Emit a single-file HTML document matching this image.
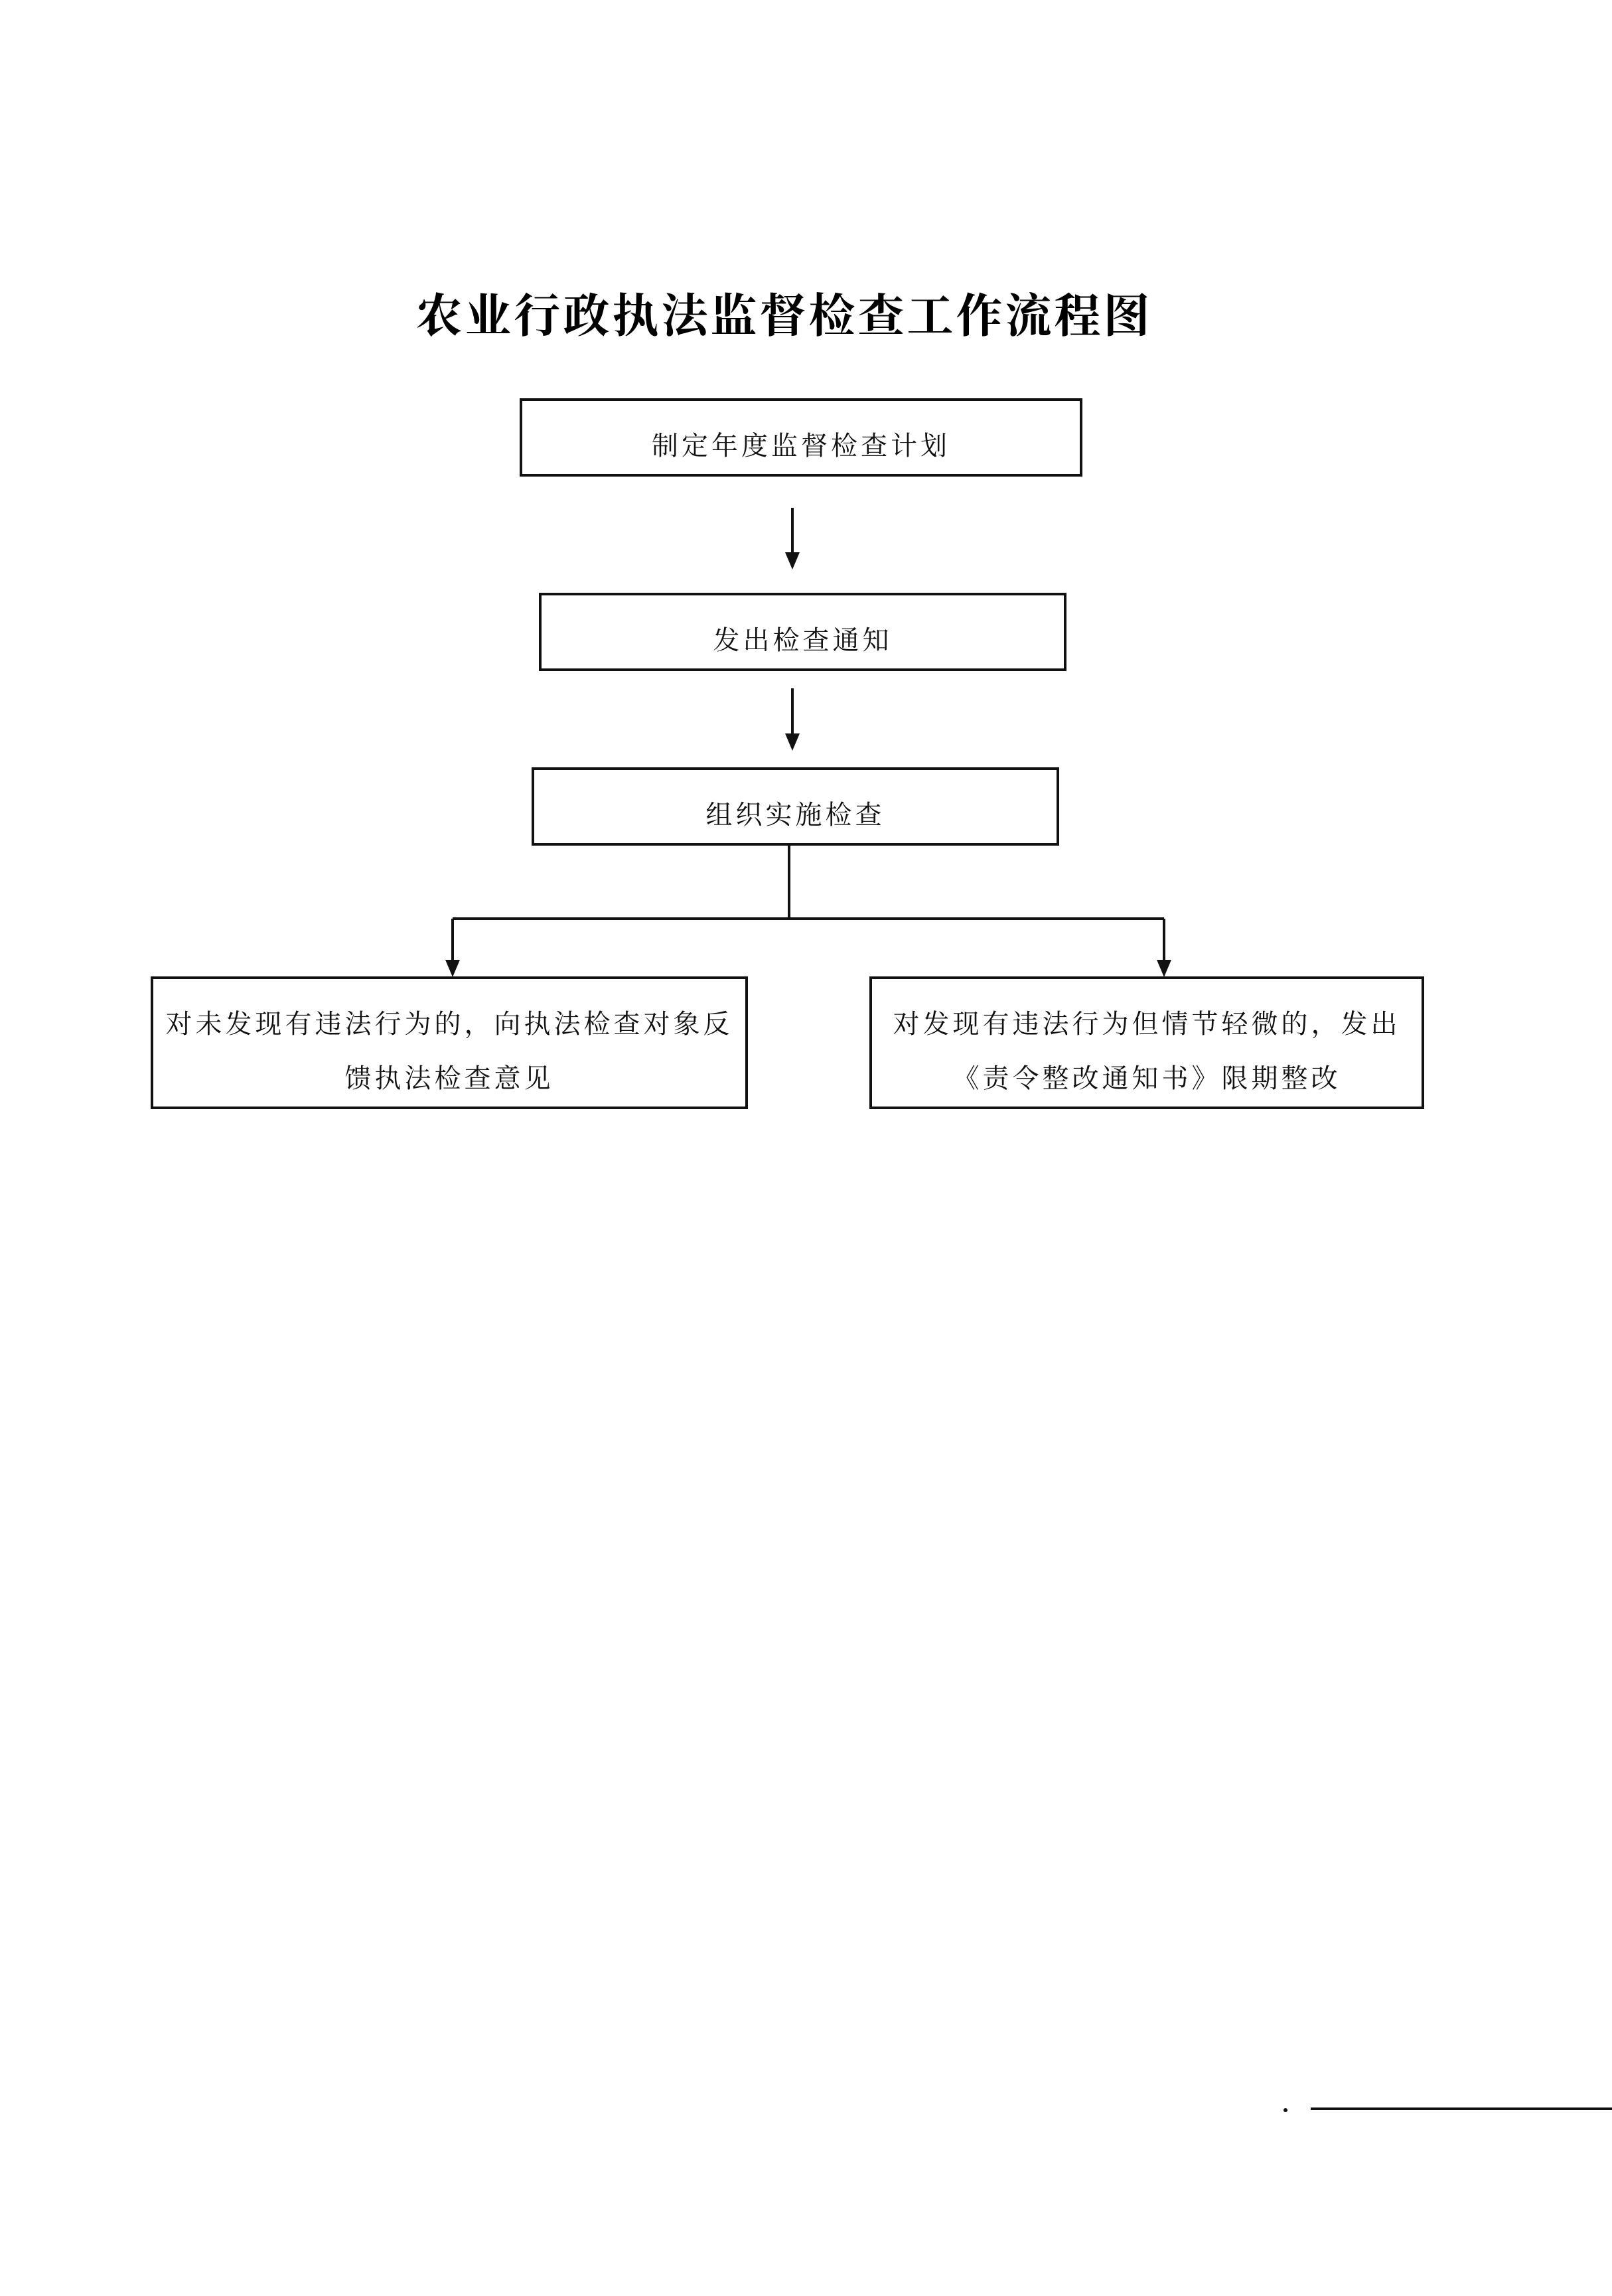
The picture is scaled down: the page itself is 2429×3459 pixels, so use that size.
<!DOCTYPE html>
<html><head><meta charset="utf-8"><style>
body{margin:0;width:2429px;height:3459px;background:#fff;position:relative;overflow:hidden;font-family:"Liberation Serif","Noto Serif CJK SC",serif;}
.t{position:absolute;left:0;width:2429px;top:420px;text-align:center;font-size:70px;font-weight:bold;letter-spacing:4px;margin-left:-33px;}
.b{position:absolute;border:4px solid #111;box-sizing:border-box;display:flex;align-items:center;justify-content:center;text-align:center;font-size:40px;letter-spacing:5px;color:#111;padding-top:18px;}
</style></head><body>
<div class="t">农业行政执法监督检查工作流程图</div>
<div class="b" style="left:783px;top:600px;width:848px;height:118px;">制定年度监督检查计划</div>
<div class="b" style="left:812px;top:893px;width:795px;height:118px;">发出检查通知</div>
<div class="b" style="left:801px;top:1156px;width:795px;height:118px;">组织实施检查</div>
<div class="b" style="left:227px;top:1471px;width:900px;height:200px;line-height:82px;padding-top:26px;">对未发现有违法行为的，向执法检查对象反<br>馈执法检查意见</div>
<div class="b" style="left:1310px;top:1471px;width:836px;height:200px;line-height:82px;padding-top:26px;">对发现有违法行为但情节轻微的，发出<br>《责令整改通知书》限期整改</div>
<svg width="2429" height="3459" style="position:absolute;left:0;top:0" xmlns="http://www.w3.org/2000/svg">
<g stroke="#111" stroke-width="4" fill="none">
<line x1="1194" y1="765" x2="1194" y2="835"/>
<line x1="1194" y1="1037" x2="1194" y2="1108"/>
<line x1="1189" y1="1274" x2="1189" y2="1385"/>
<line x1="682" y1="1384" x2="1754" y2="1384"/>
<line x1="682" y1="1384" x2="682" y2="1450"/>
<line x1="1754" y1="1384" x2="1754" y2="1450"/>
<line x1="1975" y1="3177" x2="2429" y2="3177"/>
</g>
<g fill="#111">
<polygon points="1183,832 1205,832 1194,858"/>
<polygon points="1183,1105 1205,1105 1194,1131"/>
<polygon points="671,1446 693,1446 682,1472"/>
<polygon points="1743,1446 1765,1446 1754,1472"/>
<circle cx="1937" cy="3179" r="3"/>
</g>
</svg>
</body></html>
